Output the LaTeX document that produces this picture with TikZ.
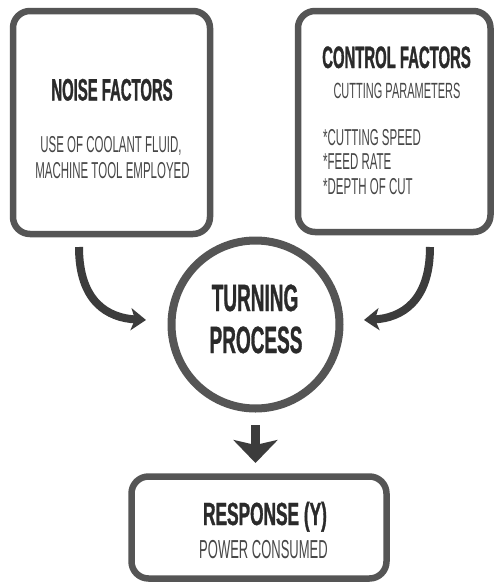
\documentclass[tikz,border=0pt]{standalone}
\usepackage{fontspec}
\setmainfont{Liberation Sans}
\newfontfamily\nr[FakeStretch=0.5, BoldFeatures={FakeBold=0.8}]{Liberation Sans}
\newfontfamily\nh[FakeStretch=0.48, BoldFeatures={FakeBold=1}]{Liberation Sans}
\newfontfamily\nrw[FakeStretch=0.54, BoldFeatures={FakeBold=1}]{Liberation Sans}
\usetikzlibrary{arrows.meta}
\definecolor{lineg}{HTML}{555555}
\definecolor{arrg}{HTML}{3C3C3C}
\definecolor{headg}{HTML}{2A2A2A}
\definecolor{subg}{HTML}{474747}
\begin{document}
\begin{tikzpicture}[x=1pt,y=-1pt,
  box/.style={draw=lineg, line width=6.5pt, rounded corners=17pt, outer sep=0pt, inner sep=0pt},
  proc/.style={draw=lineg, line width=8pt, circle, minimum size=168pt, outer sep=0pt, inner sep=0pt},
  head/.style={text=headg, font=\nh\bfseries\fontsize{31}{31}\selectfont, inner sep=0pt, anchor=base},
  sub/.style={text=subg, font=\nr\fontsize{23}{23}\selectfont, inner sep=0pt, anchor=base},
  big/.style={text=headg, font=\nr\bfseries\fontsize{38}{38}\selectfont, inner sep=0pt, anchor=base},
  flow/.style={draw=arrg, line width=8pt, -{Stealth[length=15pt,width=22pt,inset=4pt]}},
  down/.style={draw=arrg, line width=9pt, -{Stealth[length=23pt,width=44pt,inset=5pt]}},
]
\useasboundingbox (0,0) rectangle (495,584);
\fill[white] (0,0) rectangle (495,584);

% boxes
\node[box, minimum width=197pt, minimum height=223pt] (noise) at (111.5,122.5) {};
\node[box, minimum width=192.5pt, minimum height=221pt] (control) at (394.25,121.5) {};
\node[proc] (proc) at (255.5,324.5) {};
\node[box, minimum width=255pt, minimum height=102pt] (resp) at (259,527.5) {};

% texts
\node[head] (t1) at (112,100.5) {NOISE FACTORS};
\node[sub] (t2) at (111,152) {USE OF COOLANT FLUID,};
\node[sub] (t3) at (112.5,178) {MACHINE TOOL EMPLOYED};

\node[head] (c1) at (396.5,68) {CONTROL FACTORS};
\node[sub, font=\nr\fontsize{22}{22}\selectfont] (c2) at (397,98) {CUTTING PARAMETERS};
\node[sub, anchor=base west] (c3) at (323,145) {*CUTTING SPEED};
\node[sub, anchor=base west] (c4) at (323,169) {*FEED RATE};
\node[sub, anchor=base west] (c5) at (323,194) {*DEPTH OF CUT};

\node[big] (p1) at (255,311) {TURNING};
\node[big] (p2) at (256,353) {PROCESS};

\node[head, font=\nrw\bfseries\fontsize{32}{32}\selectfont] (r1) at (265,525) {RESPONSE (Y)};
\node[sub, font=\nr\fontsize{26}{26}\selectfont] (r2) at (263.5,558) {POWER CONSUMED};

% connectors
\coordinate (s1) at (79,247);
\coordinate (e1) at (146,320);
\coordinate (s2) at (430,247);
\coordinate (e2) at (364,320);
\draw[flow] (s1) .. controls (79,302) and (108,318) .. (e1);
\draw[flow] (s2) .. controls (430,302) and (401,318) .. (e2);
\draw[down, shorten <=16.5pt, shorten >=13.5pt] (proc.south) -- (proc.south |- resp.north);
\end{tikzpicture}
\end{document}
